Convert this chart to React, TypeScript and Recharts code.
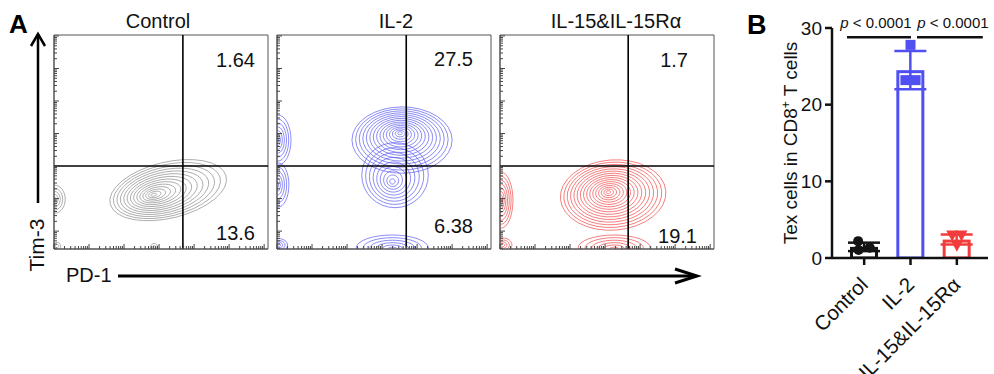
import React from 'react';
import {
  ComposedChart,
  Line,
  XAxis,
  YAxis,
  ReferenceLine,
  ReferenceArea,
  Bar,
  ErrorBar,
  Scatter,
  Label,
} from 'recharts';

const FONT = '"Liberation Sans", Arial, Helvetica, sans-serif';

// ---------------- Panel A data ----------------
const panelTitles = ['Control', 'IL-2', 'IL-15&IL-15Rα'];
const upperRightValues = ['1.64', '27.5', '1.7'];
const lowerRightValues = ['13.6', '6.38', '19.1'];
const contourColors = ['#8a8a8a', '#5a5af0', '#f04646'];
const gateXs = [3.68, 3.69, 3.66];
const gateYs = [2.0, 2.0, 2.0];
const xDomain: [number, number] = [0, 6.11];
const yDomain: [number, number] = [-0.55, 6.03];

// contour clusters (log-decade units): [innerX, innerY, outerX, outerY, radiusX, radiusY, tiltDeg, rings]
const controlClusters = [
  [2.83, 1.11, 3.26, 1.26, 1.71, 0.86, 15, 14],
  [0.0, 0.98, 0.02, 0.98, 0.3, 0.43, 0, 5],
  [0.09, -0.46, 0.09, -0.46, 0.1, 0.11, 0, 2],
  [2.86, -0.49, 2.86, -0.49, 0.1, 0.11, 0, 2],
];
const il2Clusters = [
  [3.51, 3.02, 3.57, 2.8, 1.43, 1.02, 0, 15],
  [3.29, 1.51, 3.37, 1.72, 0.95, 1.0, 0, 9],
  [0.0, 2.8, 0.03, 2.8, 0.37, 0.77, 0, 7],
  [0.0, 1.42, 0.03, 1.42, 0.31, 0.68, 0, 6],
  [0.05, -0.43, 0.05, -0.43, 0.25, 0.2, 0, 4],
  [3.3, -0.55, 3.29, -0.52, 1.03, 0.4, 0, 6],
];
const il15Clusters = [
  [3.09, 1.2, 3.23, 1.11, 1.51, 1.08, 5, 16],
  [0.0, 0.95, 0.03, 0.95, 0.34, 0.86, 0, 8],
  [0.08, -0.43, 0.08, -0.43, 0.26, 0.22, 0, 4],
  [3.26, -0.55, 3.26, -0.52, 1.03, 0.4, 0, 6],
];
const panelClusters = [controlClusters, il2Clusters, il15Clusters];

// ---------------- Panel B data ----------------
const barGroups = ['Control', 'IL-2', 'IL-15&IL-15Rα'];
const barMeans = [1.45, 24.5, 2.4];
const barSDs = [0.55, 2.5, 0.65];
const barColors = ['#141414', '#5050f2', '#f23c3c'];
const controlReps = [2.2, 1.05, 1.35];
const il2Reps = [27.8, 23.2, 23.2];
const il15Reps = [2.95, 2.95, 1.6];
const replicateSets = [controlReps, il2Reps, il15Reps];
const barYTicks = [0, 10, 20, 30];
const pLabels = ['p < 0.0001', 'p < 0.0001'];

// ---------------- layout ----------------
const panelLeft = [54, 277, 500];
const panelTop = 35;
const repJitter = [
  [-0.13, -0.12, 0.12],
  [0, -0.11, 0.11],
  [-0.1, 0.1, 0],
];
const markerKinds = ['circle', 'square', 'triDown'];

// ---------------- helpers ----------------
function buildRings(clusters: number[][]) {
  const rings: { x: number; y: number }[][] = [];
  clusters.forEach(([ix, iy, ox, oy, rx, ry, tilt, n]) => {
    const a = (tilt * Math.PI) / 180;
    for (let k = 1; k <= n; k++) {
      const s = Math.pow(k / n, 1.15);
      const cx = ix + (ox - ix) * s;
      const cy = iy + (oy - iy) * s;
      const pts: { x: number; y: number }[] = [];
      const N = 32;
      for (let t = 0; t < N; t++) {
        const th = (2 * Math.PI * t) / N;
        const ex = rx * s * Math.cos(th);
        const ey = ry * s * Math.sin(th);
        pts.push({
          x: cx + ex * Math.cos(a) - ey * Math.sin(a),
          y: cy + ex * Math.sin(a) + ey * Math.cos(a),
        });
      }
      rings.push(pts);
    }
  });
  return rings;
}

function logTicks(lo: number, hi: number) {
  const out: number[] = [];
  for (let d = Math.floor(lo); d <= Math.ceil(hi); d++) {
    for (let k = 1; k <= 9; k++) {
      const v = d + Math.log10(k);
      if (v >= lo && v <= hi) out.push(+v.toFixed(4));
    }
  }
  return out;
}
const xTicks = logTicks(xDomain[0], xDomain[1]);
const yTicks = logTicks(yDomain[0], yDomain[1]);

const isMajor = (v: number) => Math.abs(v - Math.round(v)) < 1e-6;

const XTick = (props: any) => {
  const { x, y, payload } = props;
  const len = isMajor(payload.value) ? 5 : 3;
  return <line x1={x} x2={x} y1={y} y2={y - len} stroke="#444" strokeWidth={1} />;
};
const YTick = (props: any) => {
  const { x, y, payload } = props;
  const len = isMajor(payload.value) ? 5 : 3;
  return <line x1={x} x2={x + len} y1={y} y2={y} stroke="#444" strokeWidth={1} />;
};

function ContourPanel({ idx }: { idx: number }) {
  const rings = buildRings(panelClusters[idx]);
  const color = contourColors[idx];
  return (
    <ComposedChart width={218} height={218} margin={{ top: 2, right: 2, bottom: 0, left: 0 }}>
      <XAxis
        dataKey="x"
        type="number"
        domain={xDomain}
        allowDataOverflow
        ticks={xTicks}
        interval={0}
        tick={<XTick />}
        tickLine={false}
        tickSize={0}
        tickMargin={0}
        height={2}
        axisLine={{ stroke: '#555' }}
      />
      <YAxis
        type="number"
        domain={yDomain}
        allowDataOverflow
        ticks={yTicks}
        interval={0}
        tick={<YTick />}
        tickLine={false}
        tickSize={0}
        tickMargin={0}
        width={2}
        axisLine={{ stroke: '#555' }}
      />
      <ReferenceArea
        x1={xDomain[0]}
        x2={xDomain[1]}
        y1={yDomain[0]}
        y2={yDomain[1]}
        fill="none"
        fillOpacity={0}
        stroke="#555"
        strokeWidth={1}
      />
      {rings.map((r, i) => (
        <Line
          key={i}
          data={r}
          dataKey="y"
          type="linearClosed"
          stroke={color}
          strokeWidth={0.7}
          dot={false}
          activeDot={false}
          isAnimationActive={false}
        />
      ))}
      <ReferenceLine x={gateXs[idx]} stroke="#000" strokeWidth={1.6} />
      <ReferenceLine y={gateYs[idx]} stroke="#000" strokeWidth={1.6} />
    </ComposedChart>
  );
}

// ---------------- Panel B ----------------
const barData = barGroups.map((name, i) => {
  const row: any = { name };
  row['m' + i] = barMeans[i];
  row['e' + i] = barSDs[i];
  return row;
});
const repData = replicateSets.map((reps, i) =>
  reps.map((v, j) => ({ px: i + repJitter[i][j], val: v }))
);

const Marker = (props: any) => {
  const { cx, cy, fill, kind } = props;
  if (cx == null || cy == null || isNaN(cx) || isNaN(cy)) return null;
  if (kind === 'circle') return <circle cx={cx} cy={cy} r={5} fill={fill} />;
  if (kind === 'square') return <rect x={cx - 5} y={cy - 5} width={10} height={10} fill={fill} />;
  return <polygon points={`${cx - 6},${cy - 5} ${cx + 6},${cy - 5} ${cx},${cy + 6}`} fill={fill} />;
};

const BarXTick = (props: any) => {
  const { x, y, payload } = props;
  const ax = x + 5;
  const ay = y + 19;
  return (
    <text
      x={ax}
      y={ay}
      transform={`rotate(-45 ${ax} ${ay})`}
      textAnchor="end"
      fontSize={20.5}
      fontFamily={FONT}
      fill="#111"
    >
      {payload.value}
    </text>
  );
};

const YLabel = (props: any) => {
  const vb = props.viewBox || { x: 0, y: 28, width: 92, height: 230 };
  const cx = vb.x + 57;
  const cy = vb.y + vb.height / 2;
  return (
    <text
      x={cx}
      y={cy}
      transform={`rotate(-90 ${cx} ${cy})`}
      textAnchor="middle"
      fontSize={19}
      fontFamily={FONT}
      fill="#111"
    >
      <tspan>Tex cells in CD8</tspan>
      <tspan dy={-7} fontSize={12}>+</tspan>
      <tspan dy={7}> T cells</tspan>
    </text>
  );
};

function BarPanel() {
  return (
    <ComposedChart
      width={254}
      height={374}
      data={barData}
      margin={{ top: 28, right: 6, bottom: 0, left: 0 }}
      barGap={-28}
    >
      <XAxis
        xAxisId="cat"
        dataKey="name"
        type="category"
        height={116}
        padding={{ left: 9, right: 8 }}
        interval={0}
        tick={<BarXTick />}
        tickSize={7}
        tickMargin={2}
        tickLine={{ stroke: '#111', strokeWidth: 2.5 }}
        axisLine={{ stroke: '#111', strokeWidth: 2.5 }}
      />
      <XAxis
        xAxisId="num"
        dataKey="px"
        type="number"
        domain={[-0.694, 2.672]}
        allowDataOverflow
        hide
      />
      <YAxis
        type="number"
        domain={[0, 30]}
        allowDataOverflow
        ticks={barYTicks}
        interval={0}
        width={92}
        tickSize={7}
        tickMargin={3}
        tick={{ fontSize: 19, fill: '#111', fontFamily: FONT }}
        tickLine={{ stroke: '#111', strokeWidth: 2.5 }}
        axisLine={{ stroke: '#111', strokeWidth: 2.5 }}
      >
        <Label content={<YLabel />} position="insideLeft" />
      </YAxis>
      {barGroups.map((g, i) => (
        <Bar
          key={g}
          xAxisId="cat"
          dataKey={'m' + i}
          barSize={28}
          isAnimationActive={false}
          fill="#fff"
          stroke={barColors[i]}
          shape={(p: any) => {
            if (p.payload == null || p.payload['m' + i] == null || !p.height) return null;
            return (
              <rect
                x={p.x + 1.5}
                y={p.y + 1.5}
                width={p.width - 3}
                height={p.height - 1.5}
                fill="#fff"
                stroke={barColors[i]}
                strokeWidth={3}
              />
            );
          }}
        >
          <ErrorBar dataKey={'e' + i} width={16} stroke={barColors[i]} strokeWidth={2.5} direction="y" />
        </Bar>
      ))}
      {repData.map((d, i) => (
        <Scatter
          key={i}
          xAxisId="num"
          data={d}
          dataKey="val"
          fill={barColors[i]}
          isAnimationActive={false}
          shape={(p: any) => <Marker {...p} fill={barColors[i]} kind={markerKinds[i]} />}
        />
      ))}
      <ReferenceLine
        xAxisId="num"
        segment={[
          { x: -0.37, y: 28.8 },
          { x: 1.01, y: 28.8 },
        ]}
        stroke="#111"
        strokeWidth={2.5}
        ifOverflow="visible"
      />
      <ReferenceLine
        xAxisId="num"
        segment={[
          { x: 1.14, y: 28.8 },
          { x: 2.56, y: 28.8 },
        ]}
        stroke="#111"
        strokeWidth={2.5}
        ifOverflow="visible"
      />
    </ComposedChart>
  );
}

function PText({ x, y, text }: { x: number; y: number; text: string }) {
  const rest = text.slice(1);
  return (
    <text x={x} y={y} textAnchor="middle" fontSize={15} fontFamily={FONT} fill="#111">
      <tspan fontStyle="italic">{text[0]}</tspan>
      <tspan>{rest}</tspan>
    </text>
  );
}

export default function App() {
  const titleX = [158, 396, 616];
  const upperPos = [
    [255, 67],
    [473, 66],
    [688, 67],
  ];
  const lowerPos = [
    [255, 240],
    [473, 233],
    [697, 243],
  ];
  return (
    <div
      style={{
        position: 'absolute',
        left: 0,
        top: 0,
        width: 994,
        height: 374,
        overflow: 'hidden',
        background: '#fff',
        fontFamily: FONT,
      }}
    >
      {panelTitles.map((t, i) => (
        <div key={t} style={{ position: 'absolute', left: panelLeft[i] - 2, top: panelTop - 2 }}>
          <ContourPanel idx={i} />
        </div>
      ))}
      <div style={{ position: 'absolute', left: 740, top: 0 }}>
        <BarPanel />
      </div>
      <svg
        width={994}
        height={374}
        style={{ position: 'absolute', left: 0, top: 0, pointerEvents: 'none' }}
      >
        <text x={9} y={33} fontSize={26} fontWeight="bold" fontFamily={FONT} fill="#000">
          A
        </text>
        <text x={747} y={34} fontSize={27} fontWeight="bold" fontFamily={FONT} fill="#000">
          B
        </text>
        {panelTitles.map((t, i) => (
          <text key={t} x={titleX[i]} y={28} textAnchor="middle" fontSize={20} fontFamily={FONT} fill="#111">
            {t}
          </text>
        ))}
        {upperRightValues.map((v, i) => (
          <text key={'u' + i} x={upperPos[i][0]} y={upperPos[i][1]} textAnchor="end" fontSize={20} fontFamily={FONT} fill="#111">
            {v}
          </text>
        ))}
        {lowerRightValues.map((v, i) => (
          <text key={'l' + i} x={lowerPos[i][0]} y={lowerPos[i][1]} textAnchor="end" fontSize={20} fontFamily={FONT} fill="#111">
            {v}
          </text>
        ))}
        {/* Tim-3 axis arrow */}
        <line x1={38} y1={34} x2={38} y2={203} stroke="#000" strokeWidth={2.5} />
        <polyline points="31,46 38,34 45,46" fill="none" stroke="#000" strokeWidth={2.5} />
        <text x={44} y={245} transform="rotate(-90 44 245)" textAnchor="middle" fontSize={21} fontFamily={FONT} fill="#111">
          Tim-3
        </text>
        {/* PD-1 axis arrow */}
        <text x={66} y={282} fontSize={20} fontFamily={FONT} fill="#111">
          PD-1
        </text>
        <line x1={118} y1={276} x2={696} y2={276} stroke="#000" strokeWidth={3} />
        <polyline points="675,269 697,276 675,283" fill="none" stroke="#000" strokeWidth={3} />
        <PText x={876} y={28} text={pLabels[0]} />
        <PText x={953} y={28} text={pLabels[1]} />
      </svg>
    </div>
  );
}
